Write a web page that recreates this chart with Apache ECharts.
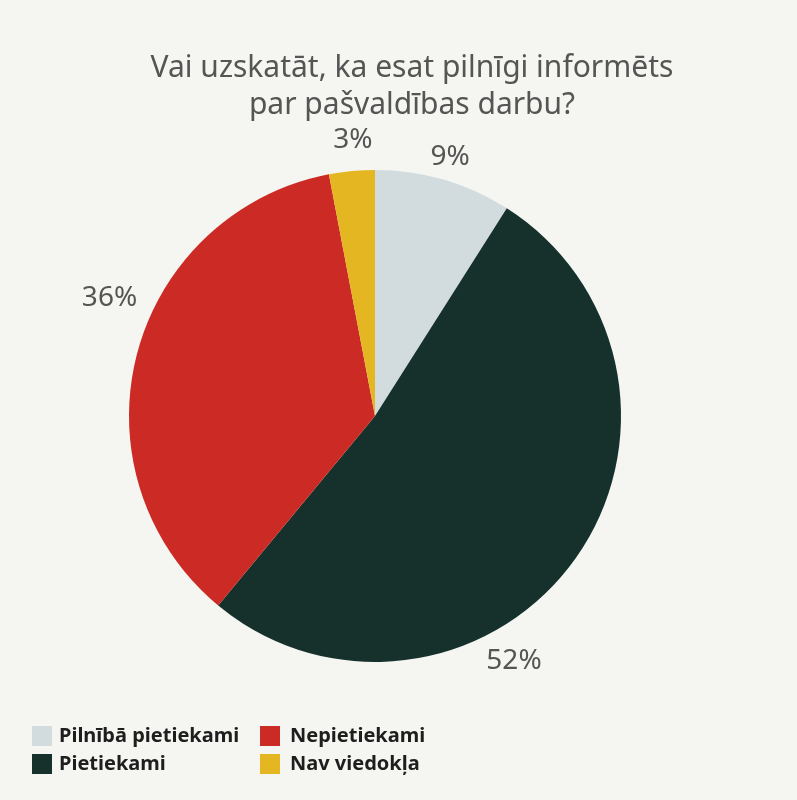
<!DOCTYPE html>
<html>
<head>
<meta charset="utf-8">
<script src="https://cdn.jsdelivr.net/npm/echarts@6/dist/echarts.min.js"></script>
<style>
  html, body { margin: 0; padding: 0; background: #f5f5f1; }
  #chart { width: 797px; height: 800px; }
</style>
</head>
<body>
<div id="chart"></div>
<script>
// Survey answers and their shares (percent)
const categories = ['Pilnībā pietiekami', 'Pietiekami', 'Nepietiekami', 'Nav viedokļa'];
const shares = [9, 52, 36, 3];
const colors = ['#d2dcdf', '#16302c', '#cc2b25', '#e4b722'];
// Small per-slice nudges for the outside percentage labels
const labelNudge = [[-22, -9], [-104, 92], [19, -53], [27, -17]];

const chart = echarts.init(document.getElementById('chart'), null, { renderer: 'canvas' });

const data = categories.map((name, i) => ({
  name: name,
  value: shares[i],
  itemStyle: { color: colors[i] }
}));

function legendText(gap) {
  return { fontFamily: 'Noto Sans', fontSize: 20, color: '#1e1e1e', fontWeight: 'bold', padding: [0, 0, 0, gap] };
}

chart.setOption({
  backgroundColor: '#f5f5f1',
  animation: false,
  title: {
    text: 'Vai uzskatāt, ka esat pilnīgi informēts\npar pašvaldības darbu?',
    left: 407,
    top: 45,
    textAlign: 'center',
    textStyle: {
      fontFamily: 'Noto Sans',
      fontSize: 30,
      fontWeight: 'normal',
      color: '#555555',
      lineHeight: 37
    }
  },
  legend: [
    {
      data: [categories[0], categories[1]],
      orient: 'vertical',
      left: 27,
      top: 721,
      itemWidth: 20,
      itemHeight: 20,
      itemGap: 8,
      icon: 'rect',
      textStyle: legendText(2)
    },
    {
      data: [categories[2], categories[3]],
      orient: 'vertical',
      left: 255,
      top: 721,
      itemWidth: 20,
      itemHeight: 20,
      itemGap: 8,
      icon: 'rect',
      textStyle: legendText(5)
    }
  ],
  series: [{
    type: 'pie',
    center: [375, 416],
    radius: [0, 246],
    startAngle: 90,
    clockwise: true,
    data: data,
    label: {
      show: true,
      position: 'outside',
      formatter: '{c}%',
      fontFamily: 'Noto Sans',
      fontSize: 28,
      color: '#555555'
    },
    labelLine: { show: false, length: 14, length2: 0 },
    labelLayout: function (params) {
      const n = labelNudge[params.dataIndex];
      return { dx: n[0], dy: n[1] };
    },
    emphasis: { disabled: true }
  }]
});
</script>
</body>
</html>
